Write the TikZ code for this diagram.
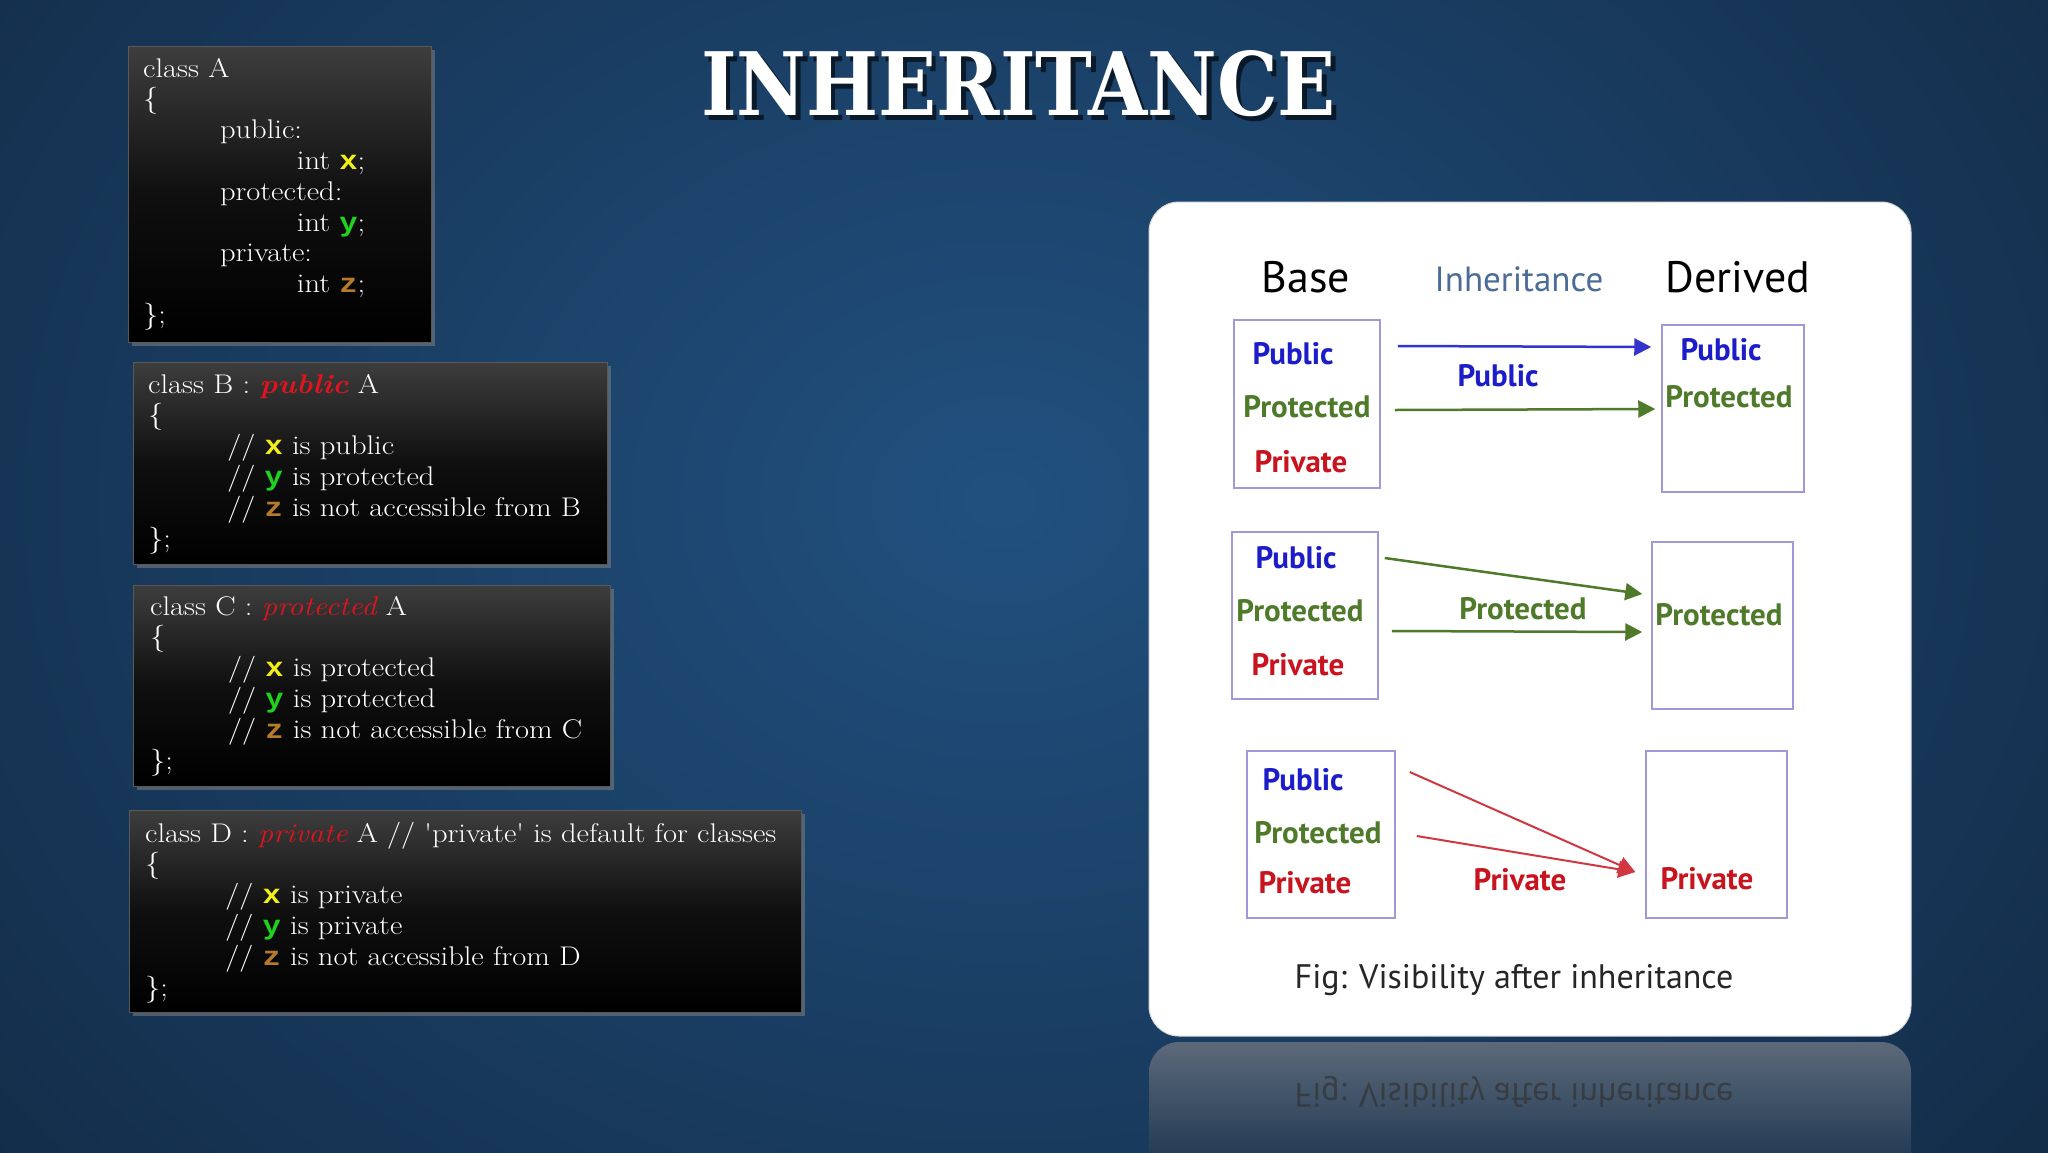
\documentclass[tikz,border=0pt]{standalone}
\usepackage{fontspec}
\newfontfamily\panelfont{PT Sans}
\newfontfamily\codemono{Liberation Mono}
\newfontfamily\titlefont{DejaVu Serif}
\usetikzlibrary{arrows.meta,shadows}

\definecolor{bgdark}{HTML}{0A1727}
\definecolor{bglight}{HTML}{21507F}
\definecolor{xcol}{HTML}{F2EE1A}
\definecolor{ycol}{HTML}{1ED21E}
\definecolor{zcol}{HTML}{B57A2C}
\definecolor{kwred}{HTML}{E0141E}
\definecolor{pubblue}{HTML}{1C1CC8}
\definecolor{progreen}{HTML}{4E7A2A}
\definecolor{prired}{HTML}{C8141E}
\definecolor{boxline}{HTML}{A098D8}
\definecolor{inhblue}{HTML}{4A6C96}
\definecolor{reflect}{HTML}{5C6979}

\newcommand\vx{\textcolor{xcol}{\codemono\bfseries x}}
\newcommand\vy{\textcolor{ycol}{\codemono\bfseries y}}
\newcommand\vz{\textcolor{zcol}{\codemono\bfseries z}}
% code lines, a bit wider than Latin Modern
\newcommand\codelines[1]{\scalebox{1.13}[1]{\begin{tabular}[t]{@{}l@{}}#1\end{tabular}}}

\tikzset{
  codebox/.style={draw=black!65, line width=1pt, top color=black!76,
    bottom color=black, middle color=black!94,
    drop shadow={opacity=0.55, shadow xshift=4pt, shadow yshift=-4pt}},
  codetext/.style={anchor=base west, inner sep=0pt, text=white,
    font=\fontsize{27}{30.8}\selectfont},
  vbox/.style={draw=boxline, line width=1.5pt, fill=white, inner sep=0pt},
  lbl/.style={inner sep=0pt, font=\panelfont\bfseries\fontsize{31}{34}\selectfont},
  head/.style={inner sep=0pt, font=\panelfont\fontsize{44}{48}\selectfont},
  arr/.style={-{Triangle[length=17pt,width=17pt]}, line width=2.5pt}
}

\begin{document}
\begin{tikzpicture}[x=1pt, y=-1pt]

\useasboundingbox (0,0) rectangle (2048,1152);

%% background
\begin{scope}
\clip (0,0) rectangle (2048,1152);
\shade[inner color=bglight, outer color=bgdark] (-1100,-1200) rectangle (3100,2200);
\end{scope}

%% title
\node[anchor=base, inner sep=0pt, text=black, opacity=0.6] (titleshadow) at (1023,120)
  {\resizebox{635pt}{65pt}{\titlefont\bfseries INHERITANCE}};
\node[anchor=base, inner sep=0pt, text=white] (title) at (1018.5,115)
  {\resizebox{635pt}{65pt}{\titlefont\bfseries INHERITANCE}};

%% code boxes
\draw[codebox] (128,46) rectangle (431,342);
\node[codetext] (codeA) at (143,77) {\codelines{class A\\
\{\\
\hspace*{68pt}public:\\
\hspace*{136pt}int \vx;\\
\hspace*{68pt}protected:\\
\hspace*{136pt}int \vy;\\
\hspace*{68pt}private:\\
\hspace*{136pt}int \vz;\\
\};}};

\draw[codebox] (133,362) rectangle (607,564);
\node[codetext] (codeB) at (148,393) {\codelines{class B : \textcolor{kwred}{\bfseries\itshape public} A\\
\{\\
\hspace*{70pt}// \vx{} is public\\
\hspace*{70pt}// \vy{} is protected\\
\hspace*{70pt}// \vz{} is not accessible from B\\
\};}};

\draw[codebox] (133,585) rectangle (610,786);
\node[codetext] (codeC) at (150,615) {\codelines{class C : \textcolor{kwred}{\itshape protected} A\\
\{\\
\hspace*{69pt}// \vx{} is protected\\
\hspace*{69pt}// \vy{} is protected\\
\hspace*{69pt}// \vz{} is not accessible from C\\
\};}};

\draw[codebox] (129,810) rectangle (801,1012);
\node[codetext] (codeD) at (145,842) {\codelines{class D : \textcolor{kwred}{\itshape private} A // \textquotesingle private\textquotesingle{} is default for classes\\
\{\\
\hspace*{71pt}// \vx{} is private\\
\hspace*{71pt}// \vy{} is private\\
\hspace*{71pt}// \vz{} is not accessible from D\\
\};}};

%% figure panel + reflection
\shade[top color=reflect, bottom color=bgdark!60!bglight, rounded corners=30]
  (1149,1042) rectangle (1911,1190);
\node[inner sep=0pt, yscale=-1, transform shape, text=black!80, opacity=0.7,
  font=\panelfont\fontsize{34}{36}\selectfont] (figrefl) at (1514,1092)
  {Fig: Visibility after inheritance};
\draw[draw=black!15, line width=1pt, fill=white, rounded corners=30]
  (1149,202) rectangle (1911,1036);

\node[head] (base) at (1306,277) {Base};
\node[head, text=inhblue, font=\panelfont\fontsize{35}{38}\selectfont] (inh) at (1519,279) {Inheritance};
\node[head] (derived) at (1738,277) {Derived};

%% row 1 : public
\node[vbox, minimum width=146, minimum height=168] (b1) at (1307,404) {};
\node[lbl, text=pubblue] (b1pub) at (1293,354) {Public};
\node[lbl, text=progreen] (b1pro) at (1307,407) {Protected};
\node[lbl, text=prired] (b1pri) at (1301,462) {Private};
\node[vbox, minimum width=142, minimum height=167] (d1) at (1733,408.5) {};
\node[lbl, text=pubblue] (d1pub) at (1721,350) {Public};
\node[lbl, text=progreen] (d1pro) at (1729,397) {Protected};
\node[lbl, text=pubblue] (m1) at (1498,376) {Public};
\draw[arr, draw=pubblue!90!white, fill=pubblue] ([shift={(17,-58)}]b1.east) -- ([shift={(-10,-61.5)}]d1.west);
\draw[arr, draw=progreen] ([shift={(14,6)}]b1.east) -- ([shift={(-6,0.5)}]d1.west);

%% row 2 : protected
\node[vbox, minimum width=146, minimum height=167] (b2) at (1305,615.5) {};
\node[lbl, text=pubblue] (b2pub) at (1296,558) {Public};
\node[lbl, text=progreen] (b2pro) at (1300,611) {Protected};
\node[lbl, text=prired] (b2pri) at (1298,665) {Private};
\node[vbox, minimum width=141, minimum height=167] (d2) at (1722.5,625.5) {};
\node[lbl, text=progreen] (d2pro) at (1719,615) {Protected};
\node[lbl, text=progreen] (m2) at (1523,609) {Protected};
\draw[arr, draw=progreen] ([shift={(6,-57.5)}]b2.east) -- ([shift={(-9,-31.5)}]d2.west);
\draw[arr, draw=progreen] ([shift={(13,15.5)}]b2.east) -- ([shift={(-9,6.5)}]d2.west);

%% row 3 : private
\node[vbox, minimum width=148, minimum height=167] (b3) at (1321,834.5) {};
\node[lbl, text=pubblue] (b3pub) at (1303,780) {Public};
\node[lbl, text=progreen] (b3pro) at (1318,833) {Protected};
\node[lbl, text=prired] (b3pri) at (1305,883) {Private};
\node[vbox, minimum width=141, minimum height=167] (d3) at (1716.5,834.5) {};
\node[lbl, text=prired] (d3pri) at (1707,879) {Private};
\node[lbl, text=prired] (m3) at (1520,880) {Private};
\draw[arr, line width=2pt, draw=prired!85!white] ([shift={(14,-62.5)}]b3.east) -- ([shift={(-10,37.5)}]d3.west);
\draw[arr, line width=2pt, draw=prired!85!white] ([shift={(21,1.5)}]b3.east) -- ([shift={(-10,37.5)}]d3.west);

\node[inner sep=0pt, text=black!85, font=\panelfont\fontsize{34}{36}\selectfont] (caption) at (1514,980)
  {Fig: Visibility after inheritance};

\end{tikzpicture}
\end{document}
